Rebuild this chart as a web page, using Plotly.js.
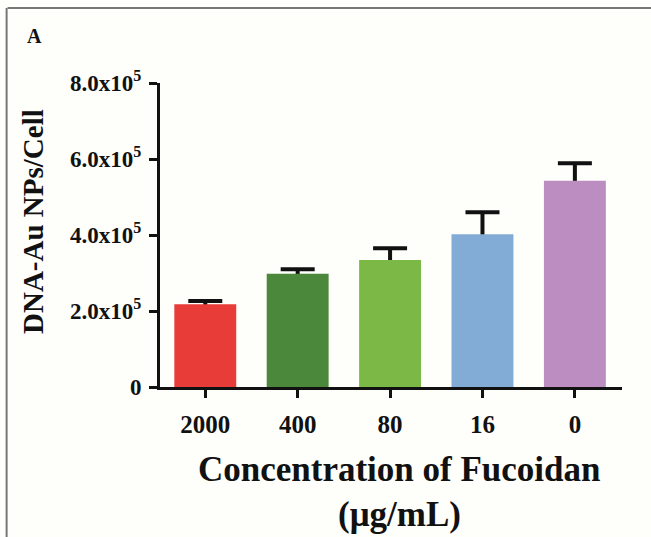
<!DOCTYPE html>
<html>
<head>
<meta charset="utf-8">
<script src="https://cdn.plot.ly/plotly-3.0.1.min.js"></script>
<style>
  html, body { margin: 0; padding: 0; background: #fefefa; }
  #chart { width: 651px; height: 537px; }
</style>
</head>
<body>
<div id="chart"></div>
<script>
// Fucoidan concentrations (µg/mL), bar heights and upper SD
const concentrations = ['2000', '400', '80', '16', '0'];
const particlesPerCell = [2.18e5, 2.98e5, 3.34e5, 4.02e5, 5.43e5];
const sdUpper = [0.08e5, 0.12e5, 0.31e5, 0.58e5, 0.46e5];
const barColors = ['#e83c38', '#4b883b', '#7cb845', '#82abd5', '#bb8dc0'];

const yTickVals = [0, 2e5, 4e5, 6e5, 8e5];
const yTickText = ['0', '2.0x10<sup>5</sup>', '4.0x10<sup>5</sup>', '6.0x10<sup>5</sup>', '8.0x10<sup>5</sup>'];

const serif = 'Liberation Serif, Times New Roman, serif';

// One-sided error bars: drawn by a transparent bar trace underneath, so the
// stub below each bar top (and its cap) is covered by the coloured bars.
const stub = 0.12e5;
const errTrace = {
  type: 'bar',
  x: concentrations,
  y: particlesPerCell,
  width: 0.67,
  marker: { color: 'rgba(0,0,0,0)', line: { width: 0 } },
  error_y: {
    type: 'data',
    symmetric: false,
    array: sdUpper,
    arrayminus: sdUpper.map(() => stub),
    color: '#111111',
    thickness: 4,
    width: 17
  },
  hoverinfo: 'skip'
};

const barTrace = {
  type: 'bar',
  x: concentrations,
  y: particlesPerCell,
  width: 0.67,
  marker: { color: barColors, line: { width: 0 } },
  hoverinfo: 'skip'
};

const layout = {
  width: 651,
  height: 537,
  barmode: 'overlay',
  paper_bgcolor: '#fefefa',
  plot_bgcolor: '#fefefa',
  margin: { l: 160, r: 29, t: 83, b: 150 },
  showlegend: false,
  font: { family: serif, color: '#111111' },
  xaxis: {
    type: 'category',
    range: [-0.49, 4.51],
    showline: true,
    linecolor: '#111111',
    linewidth: 3,
    ticks: 'outside',
    ticklen: 8,
    tickwidth: 3,
    tickcolor: '#111111',
    ticklabelstandoff: 5,
    tickfont: { family: serif, size: 25, color: '#111111', weight: 'bold' },
    showgrid: false,
    zeroline: false
  },
  yaxis: {
    range: [0, 8e5],
    tickvals: yTickVals,
    ticktext: yTickText,
    showline: true,
    linecolor: '#111111',
    linewidth: 3,
    ticks: 'outside',
    ticklen: 8,
    tickwidth: 3,
    tickcolor: '#111111',
    ticklabelstandoff: 3,
    tickfont: { family: serif, size: 23, color: '#111111', weight: 'bold' },
    showgrid: false,
    zeroline: false
  },
  annotations: [
    { text: '<b>A</b>', xref: 'paper', yref: 'paper', x: -0.292, y: 1.155, xanchor: 'left', yanchor: 'middle',
      showarrow: false, font: { family: serif, size: 20, color: '#111111' } },
    { text: '<b>DNA-Au NPs/Cell</b>', xref: 'paper', yref: 'paper', x: -0.275, y: 0.546,
      xanchor: 'center', yanchor: 'middle', textangle: -90, showarrow: false,
      font: { family: serif, size: 29, color: '#111111' } },
    { text: '<b>Concentration of Fucoidan</b>', xref: 'paper', yref: 'paper', x: 0.518, y: -0.273,
      xanchor: 'center', yanchor: 'middle', showarrow: false,
      font: { family: serif, size: 35, color: '#111111' } },
    { text: '<b>(μg/mL)</b>', xref: 'paper', yref: 'paper', x: 0.518, y: -0.42,
      xanchor: 'center', yanchor: 'middle', showarrow: false,
      font: { family: serif, size: 35, color: '#111111' } }
  ],
  shapes: [
    { type: 'line', xref: 'paper', yref: 'paper', x0: -0.33, x1: 1.07, y0: 1.247, y1: 1.247,
      line: { color: '#777777', width: 2 } },
    { type: 'line', xref: 'paper', yref: 'paper', x0: -0.332, x1: -0.332, y0: 1.247, y1: -0.5,
      line: { color: '#777777', width: 2 } }
  ]
};

Plotly.newPlot('chart', [errTrace, barTrace], layout, { displayModeBar: false, staticPlot: true });
</script>
</body>
</html>
